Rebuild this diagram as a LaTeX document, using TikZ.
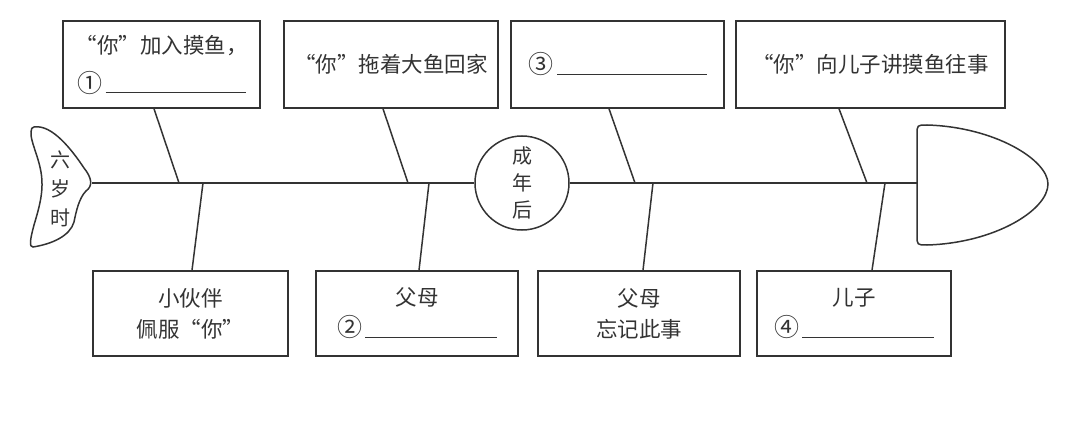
\documentclass[tikz,border=0pt]{standalone}
\usepackage{fontspec}
\setmainfont{Noto Sans CJK SC}
\newcommand{\quo}[1]{\makebox[1em][r]{“}#1\makebox[1em][l]{”}}
\newcommand{\circnum}[1]{{\fontsize{25}{25}\selectfont #1}}

\begin{document}
\begin{tikzpicture}[x=1pt,y=-1pt,line width=1.5pt,draw=black!80,
  txt/.style={text=black!80,font=\fontsize{21.5}{31}\selectfont,align=center},
  topbox/.style={draw,txt,inner sep=0pt,minimum height=87pt},
  botbox/.style={draw,txt,inner sep=0pt,minimum height=85pt}]
\useasboundingbox (0,0) rectangle (1080,441);
% tail
\draw (34,127) .. controls (52,124) and (72,150) .. (84,168)
  .. controls (92,178) and (93,186) .. (86,191)
  .. controls (79,198) and (76,212) .. (74,222)
  .. controls (70,236) and (52,244) .. (33,247)
  .. controls (29,247) and (30,240) .. (34,225)
  .. controls (40,205) and (44,190) .. (41,172)
  .. controls (38,155) and (30,140) .. (31,132)
  .. controls (31,129) and (32,127) .. (34,127) -- cycle;
\node[txt,font=\fontsize{20}{29}\selectfont] (tail) at (60,189) {六\\岁\\时};
\coordinate (tailtip) at (92,183);
% head
\draw (927,125) .. controls (995,127) and (1048,160) .. (1048,184)
  .. controls (1048,210) and (995,243) .. (927,245)
  .. controls (917,245) .. (917,235) -- (917,135)
  .. controls (917,125) .. (927,125) -- cycle;
\coordinate (headend) at (917,183);
% middle
\node[draw,circle,minimum size=94pt,inner sep=0pt,txt,font=\fontsize{20}{27}\selectfont] (mid) at (522,183) {成\\年\\后};
\draw (tailtip) -- (mid.west);
\draw (mid.east) -- (headend);
% boxes above
\node[topbox,minimum width=197pt] (t1) at (161.5,64.5) {\quo{你}加入摸鱼，\\[8pt]\circnum{①}\hspace{3pt}\rule[-1pt]{140pt}{1pt}};
\node[topbox,minimum width=214pt] (t2) at (391,64.5) {\quo{你}拖着大鱼回家};
\node[topbox,minimum width=213pt] (t3) at (617.5,64.5) {\raisebox{-7pt}{\circnum{③}\hspace{4pt}\rule[-1pt]{150pt}{1pt}}};
\node[topbox,minimum width=269pt] (t4) at (870.5,64.5) {\quo{你}向儿子讲摸鱼往事};
% boxes below
\node[botbox,minimum width=195pt] (b1) at (190.5,313.5) {小伙伴\\佩服\quo{你}};
\node[botbox,minimum width=202pt] (b2) at (417,313.5) {父母\\\circnum{②}\hspace{3pt}\rule[-1pt]{132pt}{1pt}};
\node[botbox,minimum width=202pt] (b3) at (639,313.5) {父母\\忘记此事};
\node[botbox,minimum width=194pt] (b4) at (854,313.5) {儿子\\\circnum{④}\hspace{3pt}\rule[-1pt]{132pt}{1pt}};
% bones
\coordinate (s1) at (179,183);
\coordinate (s2) at (408,183);
\coordinate (s3) at (635,183);
\coordinate (s4) at (867,183);
\coordinate (r1) at (203,183);
\coordinate (r2) at (429,183);
\coordinate (r3) at (653,183);
\coordinate (r4) at (885,183);
\draw (t1.south -| 154,0) -- (s1);
\draw (t2.south -| 383,0) -- (s2);
\draw (t3.south -| 609,0) -- (s3);
\draw (t4.south -| 839,0) -- (s4);
\draw (r1) -- (b1.north -| 192,0);
\draw (r2) -- (b2.north -| 419,0);
\draw (r3) -- (b3.north -| 643,0);
\draw (r4) -- (b4.north -| 872,0);
\end{tikzpicture}
\end{document}
